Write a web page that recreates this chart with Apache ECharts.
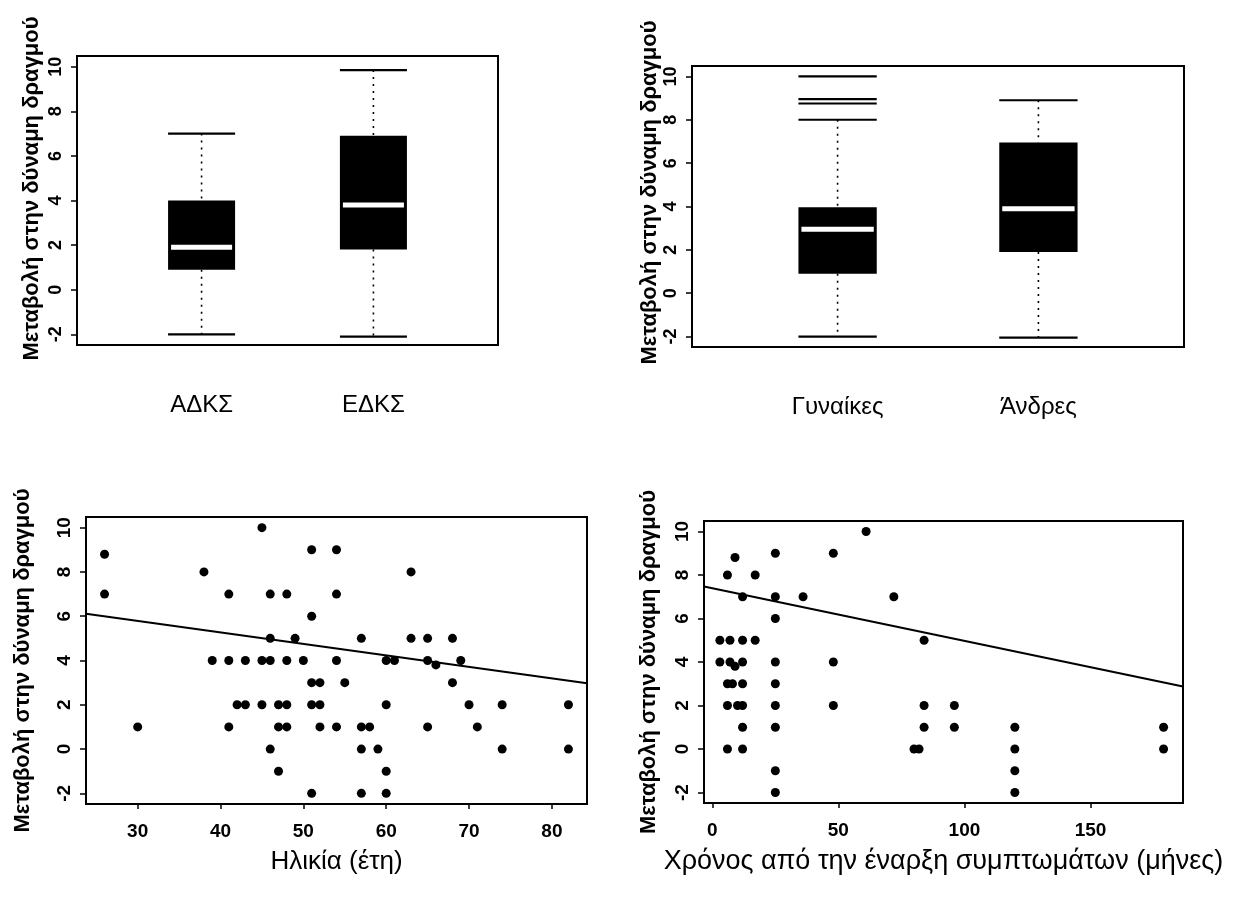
<!DOCTYPE html>
<html>
<head>
<meta charset="utf-8">
<script src="https://cdn.jsdelivr.net/npm/echarts@6/dist/echarts.min.js"></script>
<style>
  html, body { margin: 0; padding: 0; background: #fff; }
  #chart { width: 1251px; height: 899px; }
</style>
</head>
<body>
<div id="chart"></div>
<script>
// ---- data ----
const yTitle = 'Μεταβολή στην δύναμη δραγμού';
const yTicks = [-2, 0, 2, 4, 6, 8, 10];

// boxplots: [position, lower whisker, Q1, median, Q3, upper whisker]
const groupsSurgery = ['ΑΔΚΣ', 'ΕΔΚΣ'];
const boxesSurgery = [
  [1, -2.0, 0.9, 1.9, 4.0, 7.0],
  [2, -2.1, 1.8, 3.8, 6.9, 9.85]
];
const groupsSex = ['Γυναίκες', 'Άνδρες'];
const boxesSex = [
  [1, -2.0, 0.9, 2.95, 3.97, 8.0],
  [2, -2.05, 1.9, 3.9, 6.95, 8.9]
];
const outliersSex = [[1, 10], [1, 8.95], [1, 8.75]];

// change vs age
const ageYears = [26, 26, 30, 38, 39, 41, 41, 41, 42, 43, 43, 45, 45, 45, 46, 46, 46, 46, 47, 47,
  48, 47, 48, 48, 48, 49, 50, 51, 51, 51, 52, 51, 52, 51, 52, 54, 54, 54, 54, 55,
  57, 57, 58, 57, 57, 59, 60, 60, 61, 60, 60, 63, 63, 65, 65, 66, 65, 68, 68, 69,
  70, 71, 74, 74, 82, 82];
const ageChange = [8.8, 7, 1, 8, 4, 4, 7, 1, 2, 2, 4, 2, 4, 10, 4, 7, 5, 0, -1, 2,
  2, 1, 1, 7, 4, 5, 4, 9, 6, 3, 3, 2, 2, -2, 1, 9, 7, 4, 1, 3,
  5, 1, 1, 0, -2, 0, 2, 4, 4, -1, -2, 8, 5, 5, 4, 3.8, 1, 5, 3, 4,
  2, 1, 2, 0, 2, 0];
const ageFit = { intercept: 7.35, slope: -0.052 };
const ageTicks = [30, 40, 50, 60, 70, 80];

// change vs months since onset of symptoms
const monthsSince = [61, 9, 25, 48, 6, 17, 12, 25, 36, 72, 25, 3, 7, 12, 17, 84, 3, 7, 12, 9,
  25, 48, 6, 8, 12, 25, 6, 10, 12, 25, 48, 84, 96, 12, 25, 84, 96, 120, 179, 6,
  12, 80, 82, 120, 179, 25, 120, 25, 120];
const monthsChange = [10, 8.8, 9, 9, 8, 8, 7, 7, 7, 7, 6, 5, 5, 5, 5, 5, 4, 4, 4, 3.8,
  4, 4, 3, 3, 3, 3, 2, 2, 2, 2, 2, 2, 2, 1, 1, 1, 1, 1, 1, 0,
  0, 0, 0, 0, 0, -1, -1, -2, -2];
const monthsFit = { intercept: 7.39, slope: -0.0242 };
const monthsTicks = [0, 50, 100, 150];

// ---- helpers ----
const FONT = '"Liberation Sans", Arial, sans-serif';
const Y_MIN = -2.48, Y_MAX = 10.48;
const BOX_X = [0.275, 2.725];
const AGE_X = [23.76, 84.24];
const MONTH_X = [-3.3, 186.7];
const BOX_WIDTH = 0.39;

const zip = (xs, ys) => xs.map((x, i) => [x, ys[i]]);
const fitLine = (fit, range) => range.map(x => [x, fit.intercept + fit.slope * x]);

function renderBox(params, api) {
  const x = api.value(0);
  const lo = api.value(1), q1 = api.value(2), med = api.value(3), q3 = api.value(4), hi = api.value(5);
  const half = api.size([BOX_WIDTH, 0])[0] / 2;
  const c = v => api.coord([x, v]);
  const pLo = c(lo), pQ1 = c(q1), pMed = c(med), pQ3 = c(q3), pHi = c(hi);
  const cx = pLo[0];
  const dotted = { stroke: '#000', lineWidth: 1.6, lineDash: [2, 5], fill: null };
  const cap = { stroke: '#000', lineWidth: 2.2, fill: null };
  return {
    type: 'group',
    children: [
      { type: 'line', shape: { x1: cx, y1: pHi[1], x2: cx, y2: pQ3[1] }, style: dotted },
      { type: 'line', shape: { x1: cx, y1: pQ1[1], x2: cx, y2: pLo[1] }, style: dotted },
      { type: 'line', shape: { x1: cx - half, y1: pHi[1], x2: cx + half, y2: pHi[1] }, style: cap },
      { type: 'line', shape: { x1: cx - half, y1: pLo[1], x2: cx + half, y2: pLo[1] }, style: cap },
      { type: 'rect', shape: { x: cx - half, y: pQ3[1], width: 2 * half, height: pQ1[1] - pQ3[1] }, style: { fill: '#000' } },
      { type: 'line', shape: { x1: cx - half + 3, y1: pMed[1], x2: cx + half - 3, y2: pMed[1] }, style: { stroke: '#fff', lineWidth: 5 } }
    ]
  };
}

function renderOutlier(params, api) {
  const half = api.size([BOX_WIDTH, 0])[0] / 2;
  const p = api.coord([api.value(0), api.value(1)]);
  return {
    type: 'line',
    shape: { x1: p[0] - half, y1: p[1], x2: p[0] + half, y2: p[1] },
    style: { stroke: '#000', lineWidth: 2.2 }
  };
}

function makeGrid(left, top, width, height) {
  return { left, top, width, height, show: true, borderColor: '#000', borderWidth: 2,
    backgroundColor: 'transparent', outerBoundsMode: 'none', containLabel: false };
}

function makeYAxis(gridIndex, nameGap, labelSize, namePad) {
  return {
    type: 'value', gridIndex, min: Y_MIN, max: Y_MAX,
    name: yTitle, nameLocation: 'middle', nameRotate: 90, nameGap,
    nameTextStyle: { fontFamily: FONT, fontSize: 22, fontWeight: 'bold', color: '#000', padding: namePad },
    axisLine: { show: false, onZero: false },
    axisTick: { show: true, customValues: yTicks, length: 6, lineStyle: { color: '#000', width: 1.5 } },
    axisLabel: { show: true, customValues: yTicks, rotate: 90, margin: 12,
      fontFamily: FONT, fontSize: labelSize, fontWeight: 'bold', color: '#000' },
    splitLine: { show: false }
  };
}

function makeBoxXAxis(gridIndex, names) {
  return {
    type: 'value', gridIndex, min: BOX_X[0], max: BOX_X[1],
    axisLine: { show: false, onZero: false }, axisTick: { show: false }, splitLine: { show: false },
    axisLabel: { show: true, customValues: [1, 2], margin: 48,
      formatter: v => names[Math.round(v) - 1] || '',
      fontFamily: FONT, fontSize: 24, color: '#000' }
  };
}

function makeScatterXAxis(gridIndex, range, ticks, name, nameSize) {
  return {
    type: 'value', gridIndex, min: range[0], max: range[1],
    name, nameLocation: 'middle', nameGap: 45,
    nameTextStyle: { fontFamily: FONT, fontSize: nameSize, color: '#000' },
    axisLine: { show: false, onZero: false }, splitLine: { show: false },
    axisTick: { show: true, customValues: ticks, length: 5, lineStyle: { color: '#000', width: 1.5 } },
    axisLabel: { show: true, customValues: ticks, margin: 18,
      fontFamily: FONT, fontSize: 19, fontWeight: 'bold', color: '#000' }
  };
}

const scatterStyle = { color: '#000', opacity: 1 };
const lineStyle = { color: '#000', width: 2 };

const option = {
  backgroundColor: '#fff',
  animation: false,
  grid: [
    makeGrid(77, 56, 421, 289),
    makeGrid(692, 66, 492, 281),
    makeGrid(86, 517, 501, 287),
    makeGrid(704, 521, 479, 282)
  ],
  xAxis: [
    makeBoxXAxis(0, groupsSurgery),
    makeBoxXAxis(1, groupsSex),
    makeScatterXAxis(2, AGE_X, ageTicks, 'Ηλικία (έτη)', 26),
    makeScatterXAxis(3, MONTH_X, monthsTicks, 'Χρόνος από την έναρξη συμπτωμάτων (μήνες)', 27)
  ],
  yAxis: [
    makeYAxis(0, 34, 18, [0, 0, 0, 24]),
    makeYAxis(1, 29, 18, [0, 0, 0, 28]),
    makeYAxis(2, 52, 19, 0),
    makeYAxis(3, 44, 19, 0)
  ],
  series: [
    { type: 'custom', xAxisIndex: 0, yAxisIndex: 0, renderItem: renderBox, data: boxesSurgery, clip: false },
    { type: 'custom', xAxisIndex: 1, yAxisIndex: 1, renderItem: renderBox, data: boxesSex, clip: false },
    { type: 'custom', xAxisIndex: 1, yAxisIndex: 1, renderItem: renderOutlier, data: outliersSex, clip: false },
    { type: 'scatter', xAxisIndex: 2, yAxisIndex: 2, data: zip(ageYears, ageChange),
      symbol: 'circle', symbolSize: 9, itemStyle: scatterStyle },
    { type: 'line', xAxisIndex: 2, yAxisIndex: 2, data: fitLine(ageFit, AGE_X),
      symbol: 'none', lineStyle, silent: true },
    { type: 'scatter', xAxisIndex: 3, yAxisIndex: 3, data: zip(monthsSince, monthsChange),
      symbol: 'circle', symbolSize: 9, itemStyle: scatterStyle },
    { type: 'line', xAxisIndex: 3, yAxisIndex: 3, data: fitLine(monthsFit, MONTH_X),
      symbol: 'none', lineStyle, silent: true }
  ]
};

const chart = echarts.init(document.getElementById('chart'), null, { renderer: 'canvas' });
chart.setOption(option);
</script>
</body>
</html>
